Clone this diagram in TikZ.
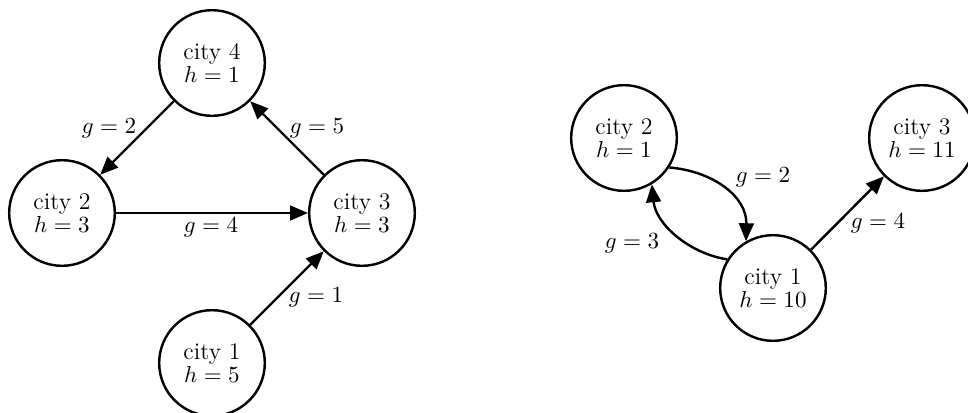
\documentclass[tikz,border=0pt]{standalone}
\usetikzlibrary{arrows.meta}
\begin{document}
\begin{tikzpicture}[x=0.0166667cm, y=-0.0166667cm,
  city/.style={circle, draw, line width=1.15pt, minimum size=1.76cm, inner sep=0pt, align=center, font=\fontsize{11.3}{10.8}\selectfont},
  edge/.style={line width=1.15pt, -{Triangle[length=8.5pt,width=7pt]}},
  lbl/.style={font=\fontsize{11.3}{13}\selectfont, inner sep=0pt}]
\useasboundingbox (0,0) rectangle (968,412);
% left graph
\node[city] (a4) at (212,63) {city 4\\$h = 1$};
\node[city] (a2) at (62,213) {city 2\\$h = 3$};
\node[city] (a3) at (362,213) {city 3\\$h = 3$};
\node[city] (a1) at (212,363) {city 1\\$h = 5$};
\draw[edge] (a4) -- (a2);
\draw[edge] (a3) -- (a4);
\draw[edge] (a2) -- (a3);
\draw[edge] (a1) -- (a3);
\node[lbl] (la2) at (109,128) {$g = 2$};
\node[lbl] (la5) at (317,128) {$g = 5$};
\node[lbl] (la4) at (211,227) {$g = 4$};
\node[lbl] (la1) at (316,297) {$g = 1$};
% right graph
\node[city] (b2) at (624,138) {city 2\\$h = 1$};
\node[city] (b3) at (922,138) {city 3\\$h = 11$};
\node[city] (b1) at (773,288) {city 1\\$h = 10$};
\draw[edge] (b2.-33) .. controls +(45,4) and +(1,-44) .. (b1.120);
\draw[edge] (b1.148) .. controls +(-38,-6) and +(4,40) .. (b2.-59);
\draw[edge] (b1) -- (b3);
\node[lbl] (lb2) at (763,177) {$g = 2$};
\node[lbl] (lb3) at (632,243) {$g = 3$};
\node[lbl] (lb4) at (878,223) {$g = 4$};
\end{tikzpicture}
\end{document}
